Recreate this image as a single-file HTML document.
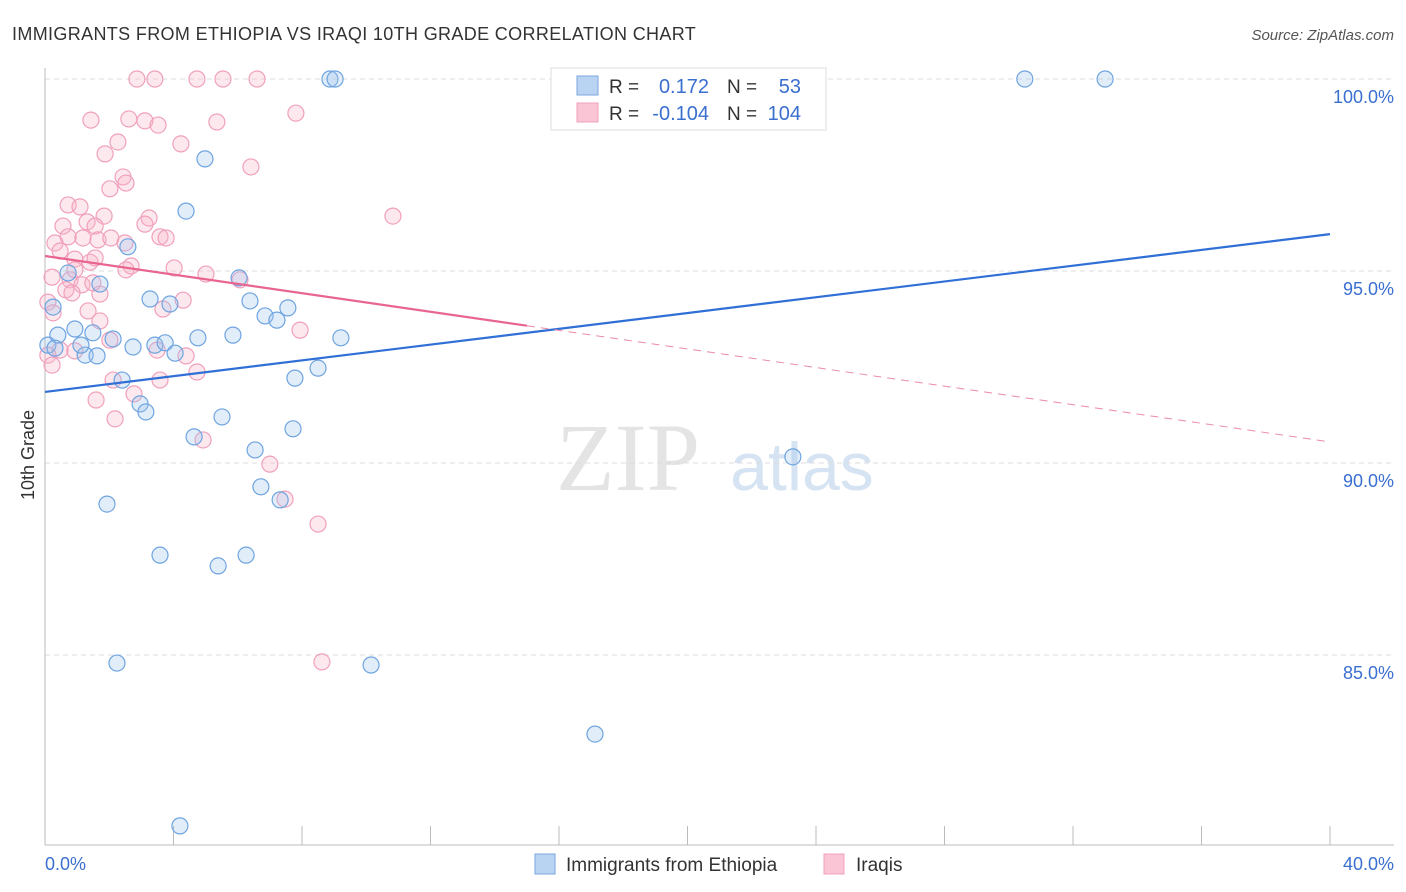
<!DOCTYPE html>
<html><head><meta charset="utf-8"><style>
body{margin:0;background:#fff;font-family:"Liberation Sans",sans-serif}
svg{display:block}
</style></head><body>
<svg id="chart" width="1406" height="892">
<text x="12" y="40" font-size="18" fill="#333" letter-spacing="0.35">IMMIGRANTS FROM ETHIOPIA VS IRAQI 10TH GRADE CORRELATION CHART</text>
<text x="1394" y="40" font-size="15" fill="#555" font-style="italic" text-anchor="end">Source: ZipAtlas.com</text>
<text x="628" y="490" font-size="96" fill="#e4e4e4" font-family="Liberation Serif" text-anchor="middle">ZIP</text>
<text x="802" y="490" font-size="68" fill="#d6e3f2" text-anchor="middle">atlas</text>
<g id="grid"></g><g id="axes"></g><g id="pts"></g><g id="lines"></g>
<text x="34" y="455" font-size="18" fill="#333" text-anchor="middle" transform="rotate(-90 34 455)">10th Grade</text>
<text x="45" y="870" font-size="18" fill="#3a6fd0">0.0%</text>
<text x="1394" y="870" font-size="18" fill="#3a6fd0" text-anchor="end">40.0%</text>
<g>
<rect x="551" y="68" width="275" height="62" fill="#fff" stroke="#ddd"/>
<rect x="577" y="76" width="21" height="19" fill="#b9d3f3" stroke="#7aa7e0"/>
<rect x="577" y="103" width="21" height="19" fill="#fac6d6" stroke="#f0a0bc"/>
<text x="609" y="93" font-size="19" fill="#333">R =</text>
<text x="709" y="93" font-size="20" fill="#3a6fd0" text-anchor="end">0.172</text>
<text x="727" y="93" font-size="19" fill="#333">N =</text>
<text x="801" y="93" font-size="20" fill="#3a6fd0" text-anchor="end">53</text>
<text x="609" y="120" font-size="19" fill="#333">R =</text>
<text x="709" y="120" font-size="20" fill="#3a6fd0" text-anchor="end">-0.104</text>
<text x="727" y="120" font-size="19" fill="#333">N =</text>
<text x="801" y="120" font-size="20" fill="#3a6fd0" text-anchor="end">104</text>
</g>
<g>
<rect x="535" y="854" width="20" height="20" fill="#b9d3f3" stroke="#7aa7e0"/>
<text x="566" y="871" font-size="19" fill="#333">Immigrants from Ethiopia</text>
<rect x="824" y="854" width="20" height="20" fill="#fac6d6" stroke="#f0a0bc"/>
<text x="856" y="871" font-size="19" fill="#333">Iraqis</text>
</g>
</svg>
<script>
const blueX=[8.87,9.03,30.5,33.0,4.98,4.39,2.58,6.04,0.72,1.71,3.27,3.89,6.38,7.56,6.85,7.22,0.25,0.93,0.40,1.49,2.12,5.85,4.76,9.21,3.42,3.74,2.74,1.25,1.62,4.05,1.12,2.40,7.78,8.50,2.96,3.14,5.51,4.64,7.72,6.54,23.28,6.72,7.32,1.93,3.58,6.26,5.39,2.24,10.15,17.12,4.20,0.09,0.31];
const blueY=[100,100,100,100,97.92,96.56,95.63,94.82,94.95,94.66,94.27,94.14,94.22,94.04,93.83,93.72,94.06,93.49,93.33,93.39,93.23,93.33,93.26,93.26,93.07,93.13,93.02,92.81,92.79,92.86,93.07,92.16,92.21,92.47,91.54,91.33,91.20,90.68,90.89,90.34,90.16,89.38,89.04,88.93,87.60,87.60,87.32,84.79,84.74,82.94,80.55,93.07,92.99];
const pinkX=[2.86,3.42,4.73,5.54,6.60,7.81,1.43,2.61,3.11,3.52,5.35,2.27,4.23,1.87,6.41,2.43,2.52,2.02,0.72,1.09,1.84,0.56,1.31,1.56,3.24,10.83,3.11,0.72,1.18,1.65,2.05,2.49,3.58,3.77,0.31,0.47,0.93,1.40,1.56,2.68,4.02,5.01,0.22,0.78,1.15,1.71,1.49,0.65,0.09,0.25,1.34,1.71,3.67,4.30,7.94,2.02,0.47,0.93,3.49,4.39,4.73,2.12,3.58,0.09,0.22,2.77,1.59,2.18,4.92,7.00,7.47,8.50,8.62,6.07,2.52,0.84,0.93];
const pinkY=[100,100,100,100,100,99.11,98.93,98.96,98.91,98.80,98.88,98.36,98.31,98.05,97.71,97.45,97.29,97.14,96.72,96.67,96.43,96.17,96.28,96.17,96.38,96.43,96.22,95.89,95.86,95.81,95.86,95.73,95.89,95.86,95.73,95.52,95.31,95.23,95.34,95.13,95.08,94.92,94.84,94.77,94.64,94.40,94.69,94.51,94.19,93.91,93.96,93.70,94.01,94.24,93.46,93.20,92.94,92.92,92.94,92.79,92.37,92.16,92.16,92.81,92.55,91.80,91.64,91.15,90.60,89.97,89.06,88.41,84.82,94.77,95.03,94.43,95.03];
const yTicks=[100,95,90,85];
const blueTrend=[91.85,95.96];
const pinkTrend=[95.39,90.55];
const pinkSolidEnd=15.0;
const NS='http://www.w3.org/2000/svg';
const sx=v=>45+v*32.125;
const sy=v=>79+(100-v)*38.4;
function mk(t,a,p){const e=document.createElementNS(NS,t);for(const k in a)e.setAttribute(k,a[k]);document.getElementById(p).appendChild(e);return e;}
yTicks.forEach(t=>{
 const l=mk('line',{x1:45,x2:1394,y1:sy(t),y2:sy(t),stroke:'#ddd','stroke-dasharray':'5,4'},'grid');
 
 
 const tx=mk('text',{x:1394,y:sy(t)+24,'font-size':18,fill:'#3a6fd0','text-anchor':'end'},'grid');
 tx.textContent=t.toFixed(1)+'%';
 
 
});
const ax=mk('line',{x1:45,x2:45,y1:68,y2:845,stroke:'#bbb'},'axes');


const bx=mk('line',{x1:45,x2:1394,y1:845,y2:845,stroke:'#bbb'},'axes');


for(let i=0;i<=40;i+=4){
 const tk=mk('line',{x1:sx(i),x2:sx(i),y1:845,y2:826,stroke:'#bbb'},'axes');
 
 
}
pinkX.forEach((x,i)=>{
 const c=mk('circle',{cx:sx(x),cy:sy(pinkY[i]),r:8,fill:'rgba(248,180,200,0.3)',stroke:'#f0a0bc','stroke-width':1.2},'pts');
 
 
});
blueX.forEach((x,i)=>{
 const c=mk('circle',{cx:sx(x),cy:sy(blueY[i]),r:8,fill:'rgba(160,195,240,0.3)',stroke:'#6ea4e0','stroke-width':1.2},'pts');
 
 
});
const pAt=x=>pinkTrend[0]+(pinkTrend[1]-pinkTrend[0])*x/40;
const bl=mk('line',{x1:sx(0),y1:sy(blueTrend[0]),x2:sx(40),y2:sy(blueTrend[1]),stroke:'#2f6fd6','stroke-width':2.2},'lines');


const pl=mk('line',{x1:sx(0),y1:sy(pAt(0)),x2:sx(pinkSolidEnd),y2:sy(pAt(pinkSolidEnd)),stroke:'#e8658f','stroke-width':2.2},'lines');


const pd=mk('line',{x1:sx(pinkSolidEnd),y1:sy(pAt(pinkSolidEnd)),x2:sx(40),y2:sy(pAt(40)),stroke:'#eb8aa8','stroke-width':1,'stroke-dasharray':'8,6'},'lines');


</script>
</body></html>
